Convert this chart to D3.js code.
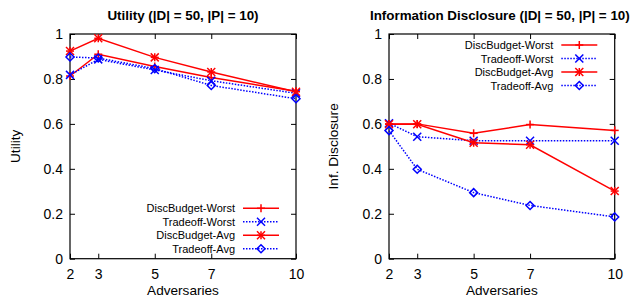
<!DOCTYPE html>
<html><head><meta charset="utf-8">
<script src="https://cdn.jsdelivr.net/npm/d3@7"></script>
<style>body{margin:0;background:#fff}svg{display:block}text{font-family:"Liberation Sans",Arial,sans-serif}</style>
</head><body><svg id="c" width="635" height="298"></svg>
<script>
const adversaries = [2, 3, 5, 7, 10];
const xTicks = [2, 3, 5, 7, 10];
const yTicks = [0, 0.2, 0.4, 0.6, 0.8, 1];
const seriesNames = ["DiscBudget-Worst", "Tradeoff-Worst", "DiscBudget-Avg", "Tradeoff-Avg"];
// Utility
const utilDiscWorst = [0.813, 0.910, 0.855, 0.806, 0.745];
const utilTradeWorst = [0.818, 0.887, 0.840, 0.792, 0.736];
const utilDiscAvg = [0.924, 0.981, 0.896, 0.831, 0.743];
const utilTradeAvg = [0.898, 0.893, 0.846, 0.771, 0.712];
// Information disclosure
const infDiscWorst = [0.600, 0.600, 0.558, 0.597, 0.571];
const infTradeWorst = [0.603, 0.543, 0.525, 0.525, 0.525];
const infDiscAvg = [0.598, 0.598, 0.516, 0.507, 0.301];
const infTradeAvg = [0.570, 0.398, 0.294, 0.237, 0.186];

const styles = [
  {color:"#ff0000", dash:null, marker:"plus"},
  {color:"#0000ff", dash:"1.5,1.5", marker:"cross"},
  {color:"#ff0000", dash:null, marker:"star"},
  {color:"#0000ff", dash:"1.5,1.5", marker:"diamond"}
];

const svg = d3.select("#c");
const FONT = "Liberation Sans, Arial, sans-serif";

function marker(g, type, x, y, color){
  const s = 4;
  const p = g.append("g").attr("transform",`translate(${x},${y})`)
    .attr("stroke",color).attr("stroke-width",1.5).attr("fill","none");
  if(type==="plus"||type==="star"){
    p.append("line").attr("x1",-s).attr("x2",s).attr("y1",0).attr("y2",0);
    p.append("line").attr("x1",0).attr("x2",0).attr("y1",-s).attr("y2",s);
  }
  if(type==="cross"||type==="star"){
    p.append("line").attr("x1",-s).attr("x2",s).attr("y1",-s).attr("y2",s);
    p.append("line").attr("x1",-s).attr("x2",s).attr("y1",s).attr("y2",-s);
  }
  if(type==="diamond"){
    p.append("path").attr("d",`M0,${-s}L${s},0L0,${s}L${-s},0Z`);
  }
}

function panel(cfg){
  const x = d3.scaleLinear().domain([2,10]).range([cfg.left, cfg.right]);
  const y = d3.scaleLinear().domain([0,1]).range([258.7, 34]);
  const g = svg.append("g");
  const tl = 5;
  g.append("g").attr("transform",`translate(${cfg.left},0)`)
    .call(d3.axisLeft(y).tickValues(yTicks).tickSize(-tl).tickPadding(7).tickFormat(d3.format("")))
    .call(a=>a.select(".domain").remove())
    .call(a=>a.selectAll("text").attr("font-size",14).attr("fill","#000").style("font-family",FONT))
    .call(a=>a.selectAll("line").attr("stroke","#000"));
  g.append("g").attr("transform",`translate(${cfg.right},0)`)
    .call(d3.axisRight(y).tickValues(yTicks).tickSize(-tl).tickFormat(""))
    .call(a=>a.select(".domain").remove())
    .call(a=>a.selectAll("line").attr("stroke","#000"));
  g.append("g").attr("transform",`translate(0,258.7)`)
    .call(d3.axisBottom(x).tickValues(xTicks).tickSize(-tl).tickPadding(10).tickFormat(d3.format("d")))
    .call(a=>a.select(".domain").remove())
    .call(a=>a.selectAll("text").attr("font-size",14).attr("fill","#000").style("font-family",FONT))
    .call(a=>a.selectAll("line").attr("stroke","#000"));
  g.append("g").attr("transform",`translate(0,34)`)
    .call(d3.axisTop(x).tickValues(xTicks).tickSize(-tl).tickFormat(""))
    .call(a=>a.select(".domain").remove())
    .call(a=>a.selectAll("line").attr("stroke","#000"));
  g.append("rect").attr("x",cfg.left).attr("y",34).attr("width",cfg.right-cfg.left).attr("height",258.7-34)
    .attr("fill","none").attr("stroke","#000").attr("stroke-width",1.2);
  g.append("text").attr("x",(cfg.left+cfg.right)/2 + cfg.titleDx).attr("y",20).attr("text-anchor","middle")
    .attr("font-size",13.4).attr("font-weight","bold").text(cfg.title);
  g.append("text").attr("x",(cfg.left+cfg.right)/2).attr("y",295).attr("text-anchor","middle")
    .attr("font-size",13.6).text("Adversaries");
  g.append("text").attr("transform",`translate(${cfg.ylabX},${(34+258.7)/2}) rotate(-90)`).attr("text-anchor","middle")
    .attr("font-size",13.6).text(cfg.ylabel);
  const line = d3.line().x((d,i)=>x(adversaries[i])).y(d=>y(d));
  cfg.data.forEach((vals,k)=>{
    const st = styles[k];
    g.append("path").attr("d",line(vals)).attr("fill","none").attr("stroke",st.color)
      .attr("stroke-width",1.5).attr("stroke-dasharray",st.dash);
    vals.forEach((v,i)=>marker(g, st.marker, x(adversaries[i]), y(v), st.color));
  });
  seriesNames.forEach((n,k)=>{
    const st = styles[k];
    const yy = cfg.legY + k*13.5;
    g.append("text").attr("x",cfg.legX).attr("y",yy+4).attr("text-anchor","end").attr("font-size",11).text(n);
    g.append("line").attr("x1",cfg.legX+8).attr("x2",cfg.legX+44).attr("y1",yy).attr("y2",yy)
      .attr("stroke",st.color).attr("stroke-width",1.5).attr("stroke-dasharray",st.dash);
    marker(g, st.marker, cfg.legX+26, yy, st.color);
  });
}

panel({left:70, right:296, title:"Utility (|D| = 50, |P| = 10)", titleDx:0, ylabel:"Utility", ylabX:20,
  data:[utilDiscWorst, utilTradeWorst, utilDiscAvg, utilTradeAvg], legX:235, legY:208.3});
panel({left:389, right:614.7, title:"Information Disclosure (|D| = 50, |P| = 10)", titleDx:-2, ylabel:"Inf. Disclosure", ylabX:338,
  data:[infDiscWorst, infTradeWorst, infDiscAvg, infTradeAvg], legX:553.3, legY:45});
</script></body></html>
